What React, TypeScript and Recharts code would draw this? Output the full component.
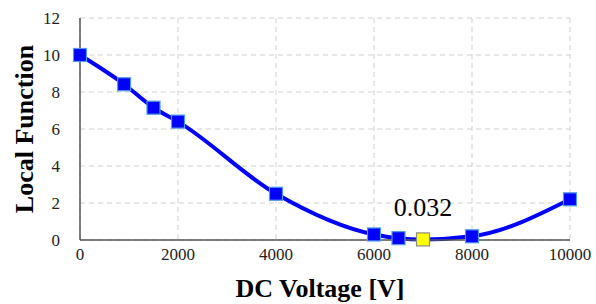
import React from "react";
import { LineChart, Line, XAxis, YAxis, CartesianGrid, Label } from "recharts";

const voltages = [0, 900, 1500, 2000, 4000, 6000, 6500, 7000, 8000, 10000];
const localFunction = [10, 8.42, 7.15, 6.4, 2.5, 0.3, 0.1, 0.032, 0.2, 2.2];
const highlightIndex = 7;
const highlightLabel = "0.032";
const xTicks = [0, 2000, 4000, 6000, 8000, 10000];
const yTicks = [0, 2, 4, 6, 8, 10, 12];

const data = voltages.map((v, i) => ({ v, f: localFunction[i] }));

const SERIF = "'Liberation Serif', 'Times New Roman', serif";

const Dot = (props: any) => {
  const { cx, cy, index } = props;
  if (cx == null || cy == null) return null;
  const hl = index === highlightIndex;
  const s = 13;
  return (
    <rect
      key={`d-${index}`}
      x={cx - s / 2}
      y={cy - s / 2}
      width={s}
      height={s}
      fill={hl ? "#FFFF00" : "#0000FF"}
      stroke={hl ? "#8C8C8C" : "#4F9BE8"}
      strokeWidth={1.2}
    />
  );
};

const PointLabel = (props: any) => {
  const { x, y, index } = props;
  if (index !== highlightIndex) return null;
  return (
    <text
      x={x}
      y={y - 23}
      textAnchor="middle"
      style={{ fontFamily: SERIF, fontSize: 26, fill: "#000" }}
    >
      {highlightLabel}
    </text>
  );
};

const XTick = (props: any) => {
  const { x, y, payload } = props;
  return (
    <text x={x} y={y + 18} textAnchor="middle" style={{ fontFamily: SERIF, fontSize: 17, fill: "#222" }}>
      {payload.value}
    </text>
  );
};

const YTick = (props: any) => {
  const { x, y, payload } = props;
  return (
    <text x={x - 18} y={y + 6} textAnchor="end" style={{ fontFamily: SERIF, fontSize: 17, fill: "#222" }}>
      {payload.value}
    </text>
  );
};

export default function App() {
  return (
    <div style={{ position: "absolute", left: 0, top: 0 }}>
      <LineChart
        width={596}
        height={304}
        data={data}
        margin={{ top: 18, right: 26, left: 0, bottom: 0 }}
        style={{ fontFamily: SERIF }}
      >
        <CartesianGrid stroke="#D0D0D0" strokeDasharray="5 4" />
        <XAxis
          dataKey="v"
          type="number"
          domain={[0, 10000]}
          ticks={xTicks}
          tickLine={false}
          tickSize={0}
          height={64}
          axisLine={{ stroke: "#555", strokeWidth: 1.5 }}
          tick={<XTick />}
        >
          <Label
            value="DC Voltage [V]"
            position="insideBottom"
            offset={7}
            dx={-5}
            style={{ fontFamily: SERIF, fontSize: 26, fontWeight: "bold", fill: "#000" }}
          />
        </XAxis>
        <YAxis
          type="number"
          domain={[0, 12]}
          ticks={yTicks}
          tickLine={false}
          tickSize={0}
          width={80}
          axisLine={{ stroke: "#555", strokeWidth: 1.5 }}
          tick={<YTick />}
        >
          <Label
            value="Local Function"
            angle={-90}
            position="insideLeft"
            offset={24}
            style={{ fontFamily: SERIF, fontSize: 26, fontWeight: "bold", fill: "#000", textAnchor: "middle" }}
          />
        </YAxis>
        <Line
          dataKey="f"
          type="monotone"
          stroke="#0000FF"
          strokeWidth={4}
          dot={<Dot />}
          activeDot={false}
          label={<PointLabel />}
          isAnimationActive={false}
        />
      </LineChart>
    </div>
  );
}
